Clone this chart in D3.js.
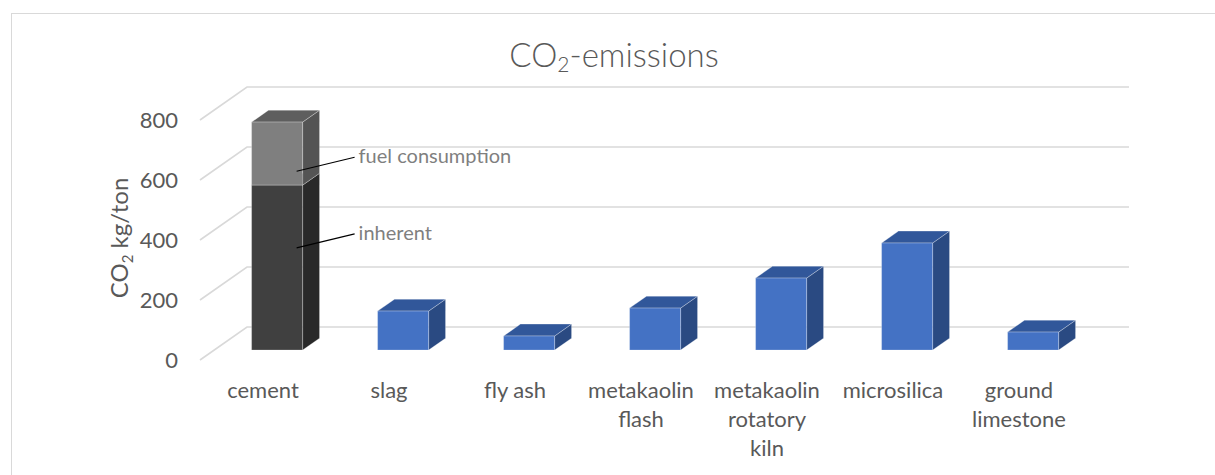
<!DOCTYPE html>
<html>
<head>
<meta charset="utf-8">
<script src="https://cdn.jsdelivr.net/npm/d3@7"></script>
<style>
  html, body { margin: 0; padding: 0; background: #fff; }
  svg { display: block; }
  text { font-family: Lato, "Open Sans", sans-serif; }
</style>
</head>
<body>
<svg id="chart" width="1215" height="475"></svg>
<script>
// CO2 emissions per ton of binder material
const categories = ["cement", "slag", "fly ash", "metakaolin flash",
                    "metakaolin rotatory kiln", "microsilica", "ground limestone"];
const seriesNames = ["inherent", "fuel consumption"];
const inherentCO2 = [550, 130, 47, 140, 240, 357, 60];
const fuelCO2     = [210,   0,  0,   0,   0,   0,  0];
const yTicks = [0, 200, 400, 600, 800];

const W = 1215, H = 475;
const svg = d3.select("#chart");

// Oblique 3D projection: front plane + depth vector
const depth = { x: 47, y: -33 };
const barDepth = [0.30, 0.66];     // bars occupy this slice of the floor depth

const x = d3.scaleBand()
  .domain(categories)
  .range([200, 1082])
  .paddingInner(0.595)
  .paddingOuter(0.2975);

const y = d3.scaleLinear().domain([0, 800]).range([360, 120]);

// chart frame
svg.append("rect")
  .attr("x", 11.5).attr("y", 13.5)
  .attr("width", W).attr("height", H)
  .attr("fill", "none").attr("stroke", "#d9d9d9").attr("stroke-width", 1);

// title
const title = svg.append("text")
  .attr("x", 614).attr("y", 67)
  .attr("text-anchor", "middle")
  .attr("fill", "#595959")
  .attr("font-size", 33)
  .attr("font-weight", 300);
title.append("tspan").text("CO");
title.append("tspan").attr("font-size", 21).attr("dy", 5).text("2");
title.append("tspan").attr("dy", -5).text("-emissions");

// gridlines: oblique floor-to-wall segment + back wall line
const xLeft = x.range()[0], xRight = x.range()[1];
const grid = svg.append("g")
  .attr("fill", "none")
  .attr("stroke", "#d9d9d9")
  .attr("stroke-width", 1.6);
yTicks.forEach(v => {
  grid.append("path").attr("d", d3.line()([
    [xLeft, y(v)],
    [xLeft + depth.x, y(v) + depth.y],
    [xRight + depth.x, y(v) + depth.y]
  ]));
});

// value axis labels
const yAxis = svg.append("g")
  .attr("transform", "translate(178,0)")
  .call(d3.axisLeft(y).tickValues(yTicks).tickSize(0).tickPadding(0));
yAxis.select(".domain").remove();
yAxis.selectAll("text")
  .attr("font-family", "Lato, 'Open Sans', sans-serif")
  .attr("font-size", 22)
  .attr("fill", "#595959")
  .attr("dy", "0.36em");

// value axis title
const yTitle = svg.append("text")
  .attr("transform", "translate(128,238) rotate(-90)")
  .attr("text-anchor", "middle")
  .attr("fill", "#595959")
  .attr("font-size", 24);
yTitle.append("tspan").text("CO");
yTitle.append("tspan").attr("font-size", 15).attr("dy", 5).text("2");
yTitle.append("tspan").attr("dy", -5).text(" kg/ton");

// stacked series
const table = categories.map((c, i) => ({ cat: c, inherent: inherentCO2[i], "fuel consumption": fuelCO2[i] }));
const stacked = d3.stack().keys(seriesNames)(table);

const palette = {
  cement: {
    "inherent":         { front: "#404040", side: "#292929", top: "#4a4a4a" },
    "fuel consumption": { front: "#7f7f7f", side: "#545454", top: "#5e5e5e" }
  },
  other: { front: "#4472c4", side: "#2a4a82", top: "#31579a" }
};
const colorsFor = (cat, key) => cat === "cement" ? palette.cement[key] : palette.other;

// project a point (x on front plane, value, depth fraction)
const P = (px, v, f) => [px + f * depth.x, y(v) + f * depth.y];

const bars = svg.append("g");
stacked.forEach(series => {
  series.forEach(d => {
    const [v0, v1] = d;
    if (v1 - v0 <= 0) return;
    const cat = d.data.cat;
    const col = colorsFor(cat, series.key);
    const x0 = x(cat), x1 = x(cat) + x.bandwidth();
    const [f0, f1] = barDepth;
    const g = bars.append("g")
      .attr("stroke", "rgba(255,255,255,0.35)")
      .attr("stroke-width", 0.8)
      .attr("stroke-linejoin", "round");
    // right side face
    g.append("path").attr("fill", col.side).attr("d", d3.line()([
      P(x1, v0, f0), P(x1, v0, f1), P(x1, v1, f1), P(x1, v1, f0)
    ]) + "Z");
    // top face
    g.append("path").attr("fill", col.top).attr("d", d3.line()([
      P(x0, v1, f0), P(x1, v1, f0), P(x1, v1, f1), P(x0, v1, f1)
    ]) + "Z");
    // front face
    g.append("path").attr("fill", col.front).attr("d", d3.line()([
      P(x0, v0, f0), P(x1, v0, f0), P(x1, v1, f0), P(x0, v1, f0)
    ]) + "Z");
  });
});

// category labels (wrapped to the band step)
const step = x.step();
const catLabels = svg.append("g")
  .attr("fill", "#595959")
  .attr("font-size", 22)
  .attr("text-anchor", "middle");
categories.forEach(c => {
  const t = catLabels.append("text")
    .attr("x", x(c) + x.bandwidth() / 2)
    .attr("y", 398);
  const words = c.split(" ");
  let lines = [], line = [];
  const probe = svg.append("text").attr("font-size", 22).attr("visibility", "hidden");
  words.forEach(w => {
    const trial = line.concat(w).join(" ");
    probe.text(trial);
    if (line.length && probe.node().getComputedTextLength() > step - 10) {
      lines.push(line.join(" "));
      line = [w];
    } else {
      line.push(w);
    }
  });
  lines.push(line.join(" "));
  probe.remove();
  lines.forEach((l, k) => {
    t.append("tspan")
      .attr("x", x(c) + x.bandwidth() / 2)
      .attr("dy", k === 0 ? 0 : 29)
      .text(l);
  });
});

// data labels with leader lines on the cement bar
const cementIdx = categories.indexOf("cement");
const cx1 = x("cement") + x.bandwidth();
const annotations = [
  { name: seriesNames[1], value: inherentCO2[cementIdx] + fuelCO2[cementIdx] * 0.22 },
  { name: seriesNames[0], value: inherentCO2[cementIdx] * 0.62 }
];
const ann = svg.append("g");
annotations.forEach(a => {
  const [ax, ay] = P(cx1 - 6, a.value, barDepth[0]);
  const tx = ax + 58, ty = ay - 14;
  ann.append("line")
    .attr("x1", ax).attr("y1", ay)
    .attr("x2", tx).attr("y2", ty)
    .attr("stroke", "#000").attr("stroke-width", 1.2);
  ann.append("text")
    .attr("x", tx + 4).attr("y", ty + 6)
    .attr("fill", "#7f7f7f")
    .attr("font-size", 20)
    .text(a.name);
});
</script>
</body>
</html>
